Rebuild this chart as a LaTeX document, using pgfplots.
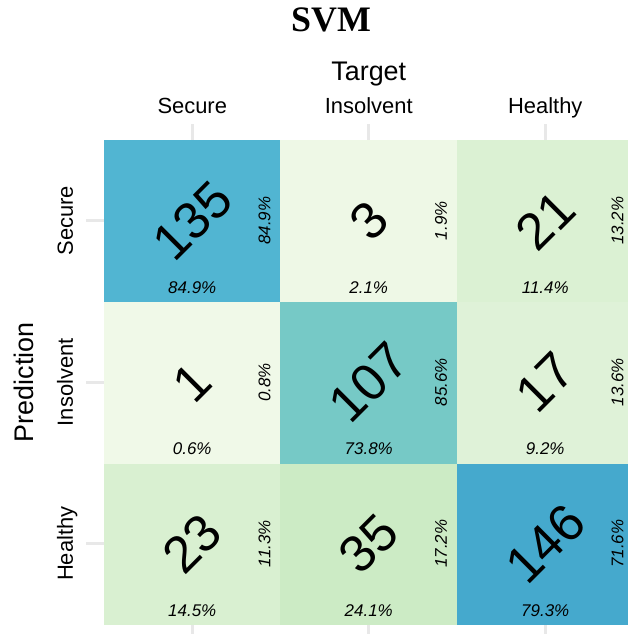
\documentclass[border=0pt]{standalone}
\usepackage{pgfplots}
\pgfplotsset{compat=1.18}
\usepackage{fontspec}
\setmainfont{Liberation Sans}
\newfontfamily\titlefont{Liberation Serif}
\usetikzlibrary{calc}
\begin{document}
\begin{tikzpicture}
\begin{axis}[
  name=ax,
  x=176.5bp, y=161.5bp,
  xmin=0.4, xmax=3.6, ymin=0.4, ymax=3.6,
  axis line style={draw=none},
  major tick length=0pt,
  xtick={1,2,3}, ytick={1,2,3},
  xticklabels={Secure,Insolvent,Healthy},
  yticklabels={Healthy,Insolvent,Secure},
  xticklabel pos=upper,
  xticklabel style={anchor=base, font=\fontsize{22}{26}\selectfont},
  xticklabel shift=10bp,
  yticklabel style={rotate=90, anchor=base, font=\fontsize{22}{26}\selectfont},
  yticklabel shift=13.4bp,
  xmajorgrids, ymajorgrids,
  grid style={draw=black!9, line width=3bp},
  xlabel={Target},
  xlabel style={at={(axis description cs:0.5,1.0832)}, anchor=base, font=\fontsize{27}{32}\selectfont},
  ylabel={Prediction},
  ylabel style={at={(axis description cs:-0.0938,0.5)}, rotate=0, anchor=base, font=\fontsize{27}{32}\selectfont},
  title={SVM},
  title style={at={(axis description cs:0.4332,1.168)}, anchor=base, font=\titlefont\bfseries\fontsize{36}{40}\selectfont},
  colormap={gnbu}{rgb255=(240,249,232) rgb255=(204,235,197) rgb255=(168,221,181) rgb255=(123,204,196) rgb255=(78,179,211) rgb255=(43,140,190) rgb255=(8,88,158)},
  point meta min=1, point meta max=205,
]
\addplot[matrix plot*, mesh/cols=3, point meta=explicit] coordinates {
(1,1) [23] (2,1) [35] (3,1) [146]
(1,2) [1] (2,2) [107] (3,2) [17]
(1,3) [135] (2,3) [3] (3,3) [21]
};
% counts
\addplot[only marks, mark=none, point meta=explicit symbolic, nodes near coords, nodes near coords align={center},
  nodes near coords style={rotate=45, anchor=center, text=black, font=\fontsize{52}{56}\selectfont}] coordinates {
(1,3) [135] (2,3) [3] (3,3) [21]
(1,2) [1] (2,2) [107] (3,2) [17]
(1,1) [23] (2,1) [35] (3,1) [146]
};
% column percentages (bottom)
\addplot[only marks, mark=none, point meta=explicit symbolic, nodes near coords, nodes near coords align={center},
  nodes near coords style={anchor=center, text=black, font=\itshape\fontsize{17}{19}\selectfont}] coordinates {
(1,2.587) [84.9\%] (2,2.587) [2.1\%] (3,2.587) [11.4\%]
(1,1.587) [0.6\%] (2,1.587) [73.8\%] (3,1.587) [9.2\%]
(1,0.587) [14.5\%] (2,0.587) [24.1\%] (3,0.587) [79.3\%]
};
% row percentages (right)
\addplot[only marks, mark=none, point meta=explicit symbolic, nodes near coords, nodes near coords align={center},
  nodes near coords style={rotate=90, anchor=center, text=black, font=\itshape\fontsize{17}{19}\selectfont}] coordinates {
(1.409,3) [84.9\%] (2.409,3) [1.9\%] (3.409,3) [13.2\%]
(1.409,2) [0.8\%] (2.409,2) [85.6\%] (3.409,2) [13.6\%]
(1.409,1) [11.3\%] (2.409,1) [17.2\%] (3.409,1) [71.6\%]
};
\end{axis}
\pgfresetboundingbox
\useasboundingbox ($(ax.north west)+(-86.35bp,123.85bp)$) rectangle ++(628bp,-634bp);
\end{tikzpicture}
\end{document}
